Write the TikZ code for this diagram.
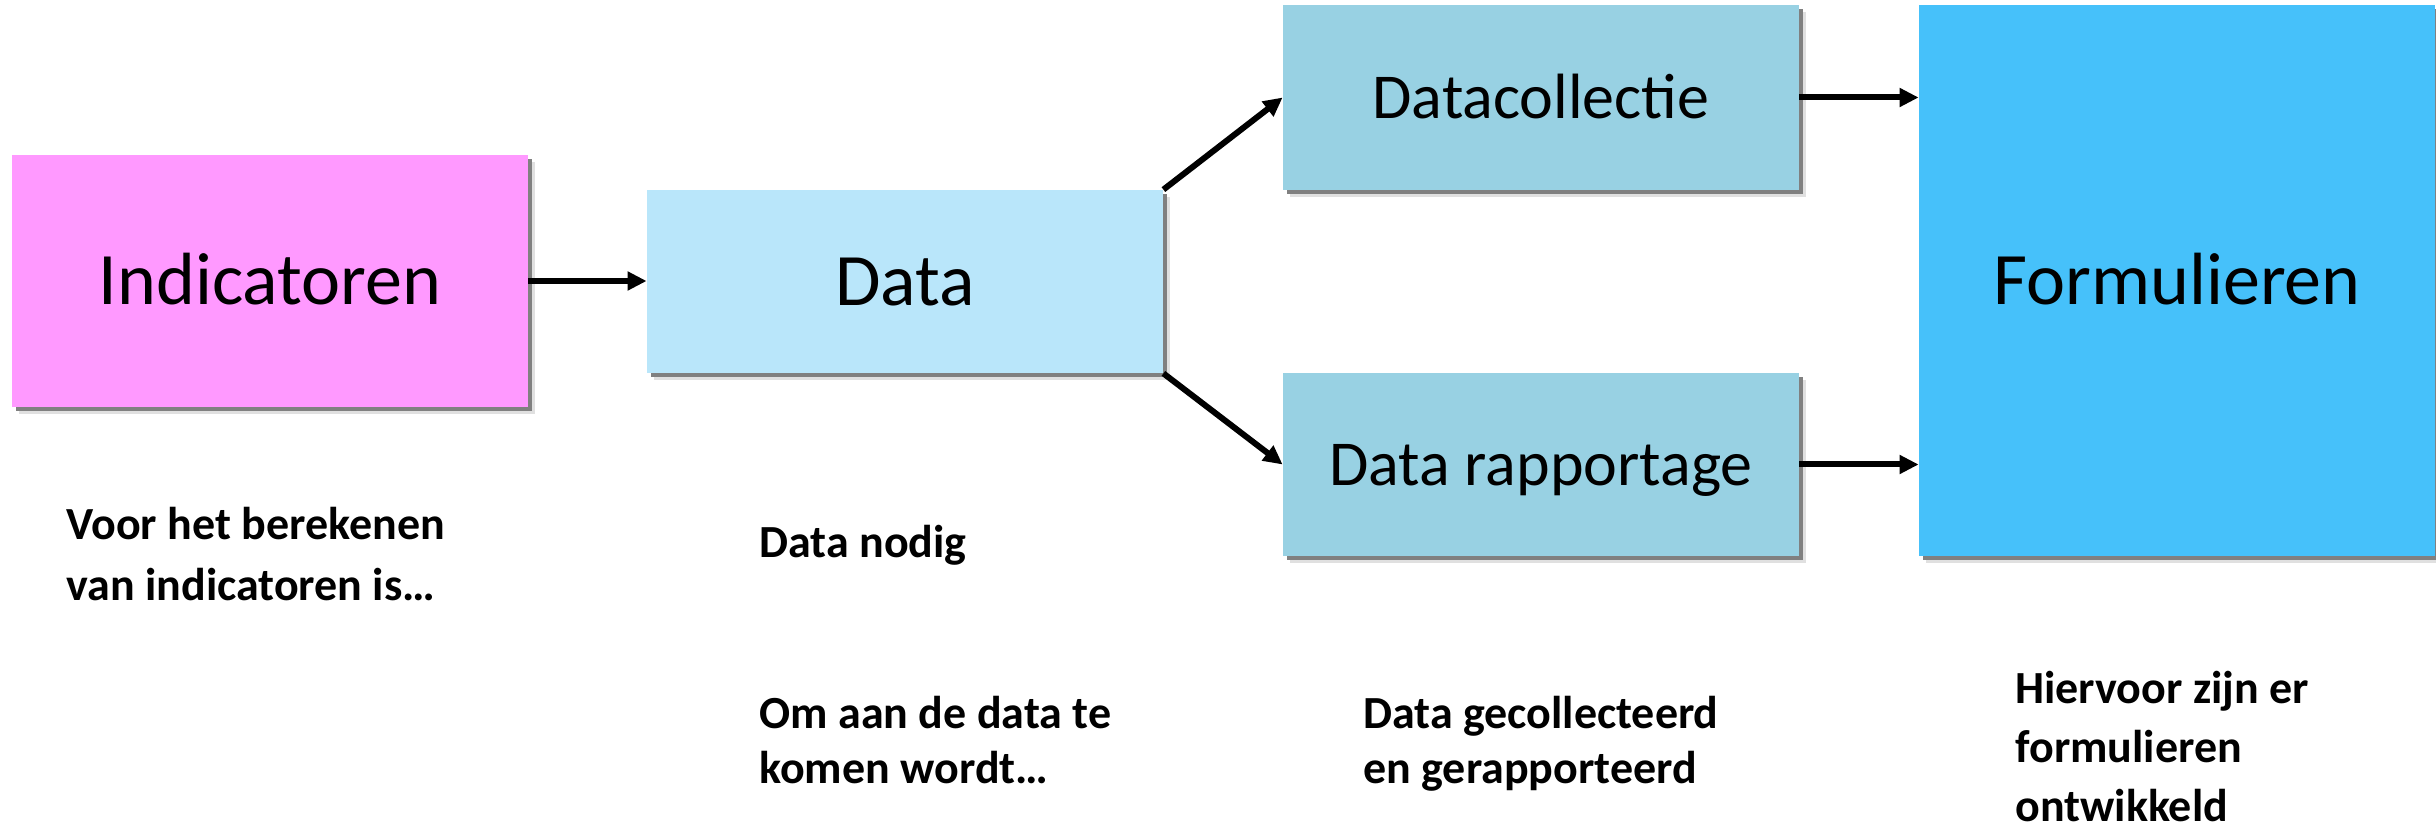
\documentclass[tikz,border=0pt]{standalone}
\usepackage{fontspec}
\setmainfont{Carlito}
\usetikzlibrary{arrows.meta,shadows,calc}

\begin{document}
\begin{tikzpicture}[x=0.5pt,y=-0.5pt,
    box/.style={rectangle,inner sep=0pt,minimum width=258pt,text depth=0pt,
      drop shadow={shadow xshift=3.5pt,shadow yshift=-3.5pt,fill=black,opacity=.12},
      drop shadow={shadow xshift=2pt,shadow yshift=-2pt,fill=black!50,opacity=1}},
    bigbox/.style={box,font=\fontsize{37}{44}\selectfont,text height=23.8pt},
    smallbox/.style={box,font=\fontsize{32}{38}\selectfont,text height=20.6pt},
    note/.style={inner sep=0pt,align=left,anchor=base west,
      font=\bfseries\fontsize{23}{#1}\selectfont},
    note/.default=27.5pt,
    arrow/.style={line width=3pt,-{Triangle[length=9.5pt,width=9pt]}}]
  \definecolor{indcolor}{RGB}{255,153,255}
  \definecolor{datacolor}{RGB}{185,230,250}
  \definecolor{stepcolor}{RGB}{152,209,227}
  \definecolor{formcolor}{RGB}{70,193,250}

  % fix the visible area first
  \useasboundingbox (0,0) rectangle (2436,828);

  % the boxes
  \node [bigbox,fill=indcolor,minimum height=126pt] (ind) at (270,281) {Indicatoren};
  \node [bigbox,fill=datacolor,minimum height=91.5pt] (data) at (905,281.5) {Data};
  \node [smallbox,fill=stepcolor,minimum height=92.5pt] (coll) at (1541,97.5) {Datacollectie};
  \node [smallbox,fill=stepcolor,minimum height=91.5pt] (rapp) at (1541,464.5) {Data rapportage};
  \node [bigbox,fill=formcolor,minimum height=275.5pt] (form) at (2177,280.5) {Formulieren};

  % the arrows between them
  \draw [arrow] (ind.east) -- (ind.east -| data.west);
  \draw [arrow] (data.north east) -- (coll.west);
  \draw [arrow] (data.south east) -- (rapp.west);
  \draw [arrow] (coll.east) -- (coll.east -| form.west);
  \draw [arrow] (rapp.east) -- (rapp.east -| form.west);

  % text below (anchored at the baseline of the last line)
  \node [note=30.5pt] (noteInd) at (66,600) {Voor het berekenen\\van indicatoren is…};
  \node [note] (noteData) at (759,557) {Data nodig};
  \node [note] (noteWay) at (759,783) {Om aan de data te\\komen wordt…};
  \node [note] (noteStep) at (1363,783) {Data gecollecteerd\\en gerapporteerd};
  \node [note=29.5pt] (noteForm) at (2015,821) {Hiervoor zijn er\\formulieren\\ontwikkeld};
\end{tikzpicture}
\end{document}
